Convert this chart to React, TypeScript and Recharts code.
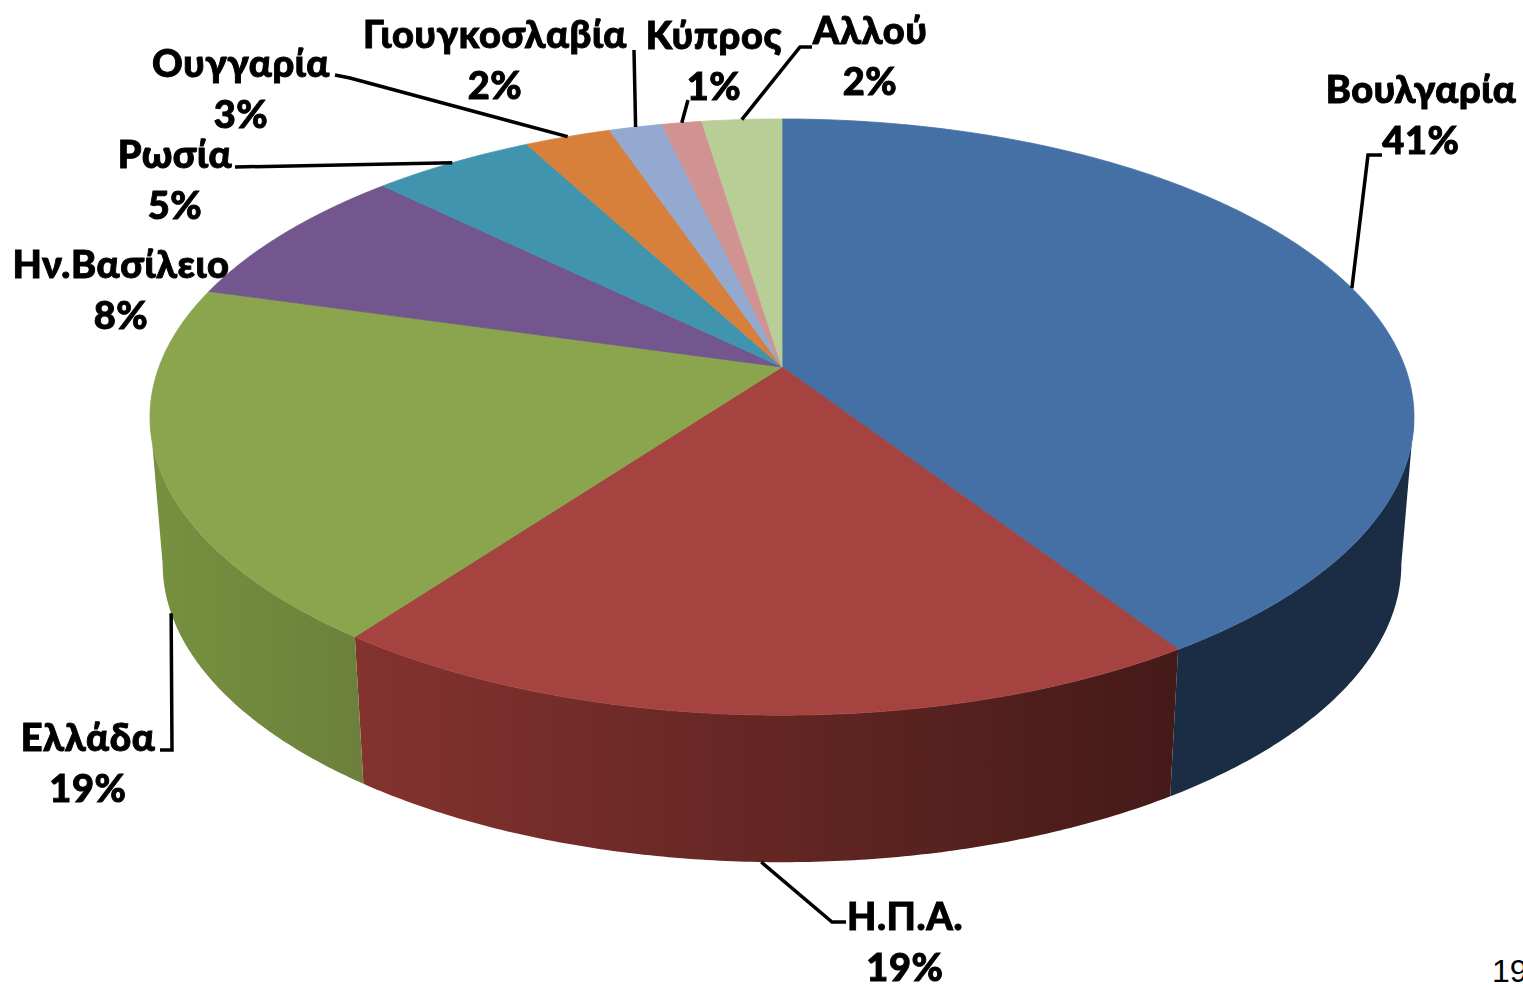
import React from 'react'
import { Pie, PieChart } from 'recharts'

const countries = ['Βουλγαρία', 'Η.Π.Α.', 'Ελλάδα', 'Ην.Βασίλειο', 'Ρωσία', 'Ουγγαρία', 'Γιουγκοσλαβία', 'Κύπρος', 'Αλλού']
const shares = [40.8, 19.3, 19.3, 7.9, 4.9, 2.6, 1.6, 1.2, 2.4]
const topColors = ['#4570a5', '#a54341', '#8aa54e', '#72568d', '#4094ae', '#d7803c', '#93a9cf', '#d09392', '#b9cd96']
const wallFrom = ['#1a2d45', '#84332f', '#76913f', '#5c4571', '#33778c', '#ad6730', '#7688a6', '#a87675', '#95a579']
const wallTo = ['#1a2d45', '#441a18', '#6c803c', '#5c4571', '#33778c', '#ad6730', '#7688a6', '#a87675', '#95a579']

// label layout: text centre, first baseline, then the bend points of the leader line
const labelCentres = [1421, 905, 88, 121, 175, 241, 495, 714, 870]
const labelBaselines = [103, 930, 751, 278, 168, 77, 48, 49, 44]
const leaders: number[][][] = [
  [[1368, 155], [1382, 155]],
  [[832, 922], [846, 922]],
  [[172, 750], [160, 750]],
  [],
  [[235, 167]],
  [[350, 78], [335, 75]],
  [[634, 50]],
  [[688, 100]],
  [[800, 47], [812, 47]],
]

const chartData = countries.map((name, i) => ({ name, value: shares[i], fill: topColors[i] }))

// tilted disc: perspective foreshortening of the unit circle
const K = 0.168
const SQUASH = 0.465
const WALL_SCALE = 0.98
const WALL_DEPTH = 147
const RIGHT_TANGENT = 99.7
const LEFT_TANGENT = 260.3

const project = (cx: number, cy: number, r: number, theta: number, lower = false) => {
  const rad = (theta * Math.PI) / 180
  const u = Math.sin(rad)
  const v = -Math.cos(rad)
  const w = 1 - K * v
  const x = (r * u) / w
  const y = (r * SQUASH * v) / w
  return lower ? [cx + x * WALL_SCALE, cy + y + WALL_DEPTH] : [cx + x, cy + y]
}

const toTheta = (angle: number) => 90 - angle

const SliceShape = (props: any) => {
  const { cx, cy, outerRadius, startAngle, endAngle, fill, index } = props
  const from = toTheta(startAngle)
  const to = toTheta(endAngle)
  const top: number[][] = []
  for (let t = from; t < to; t += 0.5) top.push(project(cx, cy, outerRadius, t))
  top.push(project(cx, cy, outerRadius, to))
  const topPath = `M${cx},${cy} ` + top.map((p) => `L${p[0]},${p[1]}`).join(' ') + ' Z'

  const wallStart = Math.max(from, RIGHT_TANGENT)
  const wallEnd = Math.min(to, LEFT_TANGENT)
  let wallPath = ''
  if (wallEnd > wallStart) {
    const upper: number[][] = []
    const lower: number[][] = []
    for (let t = wallStart; t < wallEnd; t += 0.5) {
      upper.push(project(cx, cy, outerRadius, t))
      lower.push(project(cx, cy, outerRadius, t, true))
    }
    upper.push(project(cx, cy, outerRadius, wallEnd))
    lower.push(project(cx, cy, outerRadius, wallEnd, true))
    wallPath = 'M' + upper.concat(lower.reverse()).map((p) => `${p[0]},${p[1]}`).join(' L') + ' Z'
  }
  const gradId = `wall-${index}`
  return (
    <g>
      <defs>
        <linearGradient id={gradId} x1="0" y1="0" x2="1" y2="0">
          <stop offset="0" stopColor={wallFrom[index]} />
          <stop offset="1" stopColor={wallTo[index]} />
        </linearGradient>
      </defs>
      {wallPath && <path d={wallPath} fill={`url(#${gradId})`} />}
      <path d={topPath} fill={fill} stroke={fill} strokeWidth={0.8} />
    </g>
  )
}

const labelText = {
  textAnchor: 'middle' as const,
  fontFamily: "Lato, 'Open Sans', sans-serif",
  fontWeight: 900,
  fontSize: 38,
  letterSpacing: 0.6,
  fill: '#000',
  stroke: '#000',
  strokeWidth: 0.9,
  style: { filter: 'blur(0.6px)' },
}

const SliceLabel = (props: any) => {
  const { cx, cy, outerRadius, midAngle, index, name, percent } = props
  const theta = toTheta(midAngle)
  const start = project(cx, cy, outerRadius, theta, theta > RIGHT_TANGENT && theta < LEFT_TANGENT)
  const bends = leaders[index]
  return (
    <g>
      {bends.length > 0 && (
        <polyline
          points={[start, ...bends].map((p) => p.join(',')).join(' ')}
          fill="none"
          stroke="#000"
          strokeWidth={3.5}
        />
      )}
      <text x={labelCentres[index]} y={labelBaselines[index]} {...labelText}>
        {name}
      </text>
      <text x={labelCentres[index]} y={labelBaselines[index] + 51} {...labelText}>
        {`${Math.round(percent * 100)}%`}
      </text>
    </g>
  )
}

const App = () => {
  return (
    <div style={{ position: 'absolute', left: 0, top: 0, width: 1523, height: 984, overflow: 'hidden', background: '#fff' }}>
      <PieChart width={1523} height={984} margin={{ top: 0, right: 0, bottom: 0, left: 0 }}>
        <Pie
          data={chartData}
          dataKey="value"
          nameKey="name"
          cx={782}
          cy={367}
          outerRadius={623}
          startAngle={90}
          endAngle={-270}
          stroke="none"
          shape={SliceShape}
          label={SliceLabel}
          labelLine={false}
          isAnimationActive={false}
        />
      </PieChart>
      <div style={{ position: 'absolute', left: 1492, top: 953, fontFamily: 'Liberation Sans', fontSize: 32, lineHeight: '36px' }}>19</div>
    </div>
  )
}

export default App
